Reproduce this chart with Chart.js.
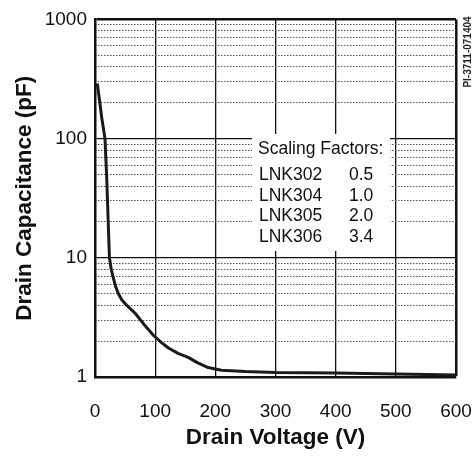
<!DOCTYPE html>
<html>
<head>
<meta charset="utf-8">
<script src="https://cdn.jsdelivr.net/npm/chart.js@4"></script>
<style>
  html, body { margin: 0; padding: 0; background: #fff; }
  #wrap { width: 474px; height: 456px; }
</style>
</head>
<body>
<div id="wrap"><canvas id="capChart" width="474" height="456"></canvas></div>
<script>
// ── DATA ──
const voltage = [3.8, 7.5, 11, 16.6, 19.4, 22, 24, 27, 30.4, 34, 38.8, 45, 52.6, 66.5, 83, 97, 110, 122, 138, 155, 170, 188, 210, 250, 300, 400, 500, 600];
const capacitance = [290, 210, 152, 100, 48, 19.6, 10, 8, 6.8, 5.8, 5.0, 4.4, 4.0, 3.44, 2.7, 2.24, 1.95, 1.75, 1.58, 1.46, 1.32, 1.2, 1.14, 1.11, 1.09, 1.08, 1.06, 1.04];

const yMajorTicks = [1, 10, 100, 1000];
const yMinorTicks = [2, 3, 4, 5, 6, 7, 8, 9, 20, 30, 40, 50, 60, 70, 80, 90, 200, 300, 400, 500, 600, 700, 800, 900];

const scalingParts = ['LNK302', 'LNK304', 'LNK305', 'LNK306'];
const scalingValues = ['0.5', '1.0', '2.0', '3.4'];

const FONT = "'Liberation Sans', Arial, Helvetica, sans-serif";

// ── SCALING FACTORS BOX + DOC ID ──
const annotations = {
    id: 'annotations',
    beforeDatasetsDraw(chart) {
        const ctx = chart.ctx;
        ctx.save();
        ctx.fillStyle = '#fff';
        ctx.fillRect(252, 134, 138, 117);
        ctx.fillStyle = '#111';
        ctx.font = '17.5px ' + FONT;
        ctx.textBaseline = 'middle';
        ctx.textAlign = 'left';
        ctx.fillText('Scaling Factors:', 258, 149);
        scalingParts.forEach((p, i) => {
            const y = 175 + i * 20.7;
            ctx.fillText(p, 259, y);
            ctx.fillText(scalingValues[i], 349, y);
        });
        ctx.restore();
    },
    afterDraw(chart) {
        const ctx = chart.ctx;
        ctx.save();
        ctx.translate(468, 52);
        ctx.rotate(-Math.PI / 2);
        ctx.font = 'bold 10px ' + FONT;
        ctx.fillStyle = '#222';
        ctx.textAlign = 'center';
        ctx.textBaseline = 'middle';
        ctx.fillText('PI-3711-071404', 0, 0);
        ctx.restore();
    }
};

new Chart(document.getElementById('capChart').getContext('2d'), {
    type: 'line',
    data: {
        datasets: [{
            data: voltage.map((v, i) => ({ x: v, y: capacitance[i] })),
            borderColor: '#1a1a1a',
            borderWidth: 3,
            borderJoinStyle: 'round',
            pointRadius: 0,
            tension: 0,
            fill: false
        }]
    },
    options: {
        responsive: false,
        animation: false,
        layout: { padding: { top: 13, right: 18, left: 0, bottom: 0 } },
        plugins: { legend: { display: false }, tooltip: { enabled: false } },
        scales: {
            x: {
                type: 'linear',
                min: 0,
                max: 600,
                ticks: { stepSize: 100, color: '#111', font: { family: FONT, size: 19 }, padding: 23, maxRotation: 0 },
                grid: {
                    color: '#111',
                    lineWidth: (c) => (c.tick && c.tick.value === 600 ? 2.5 : 1.3),
                    drawTicks: false
                },
                border: { color: '#111', width: 2.5 },
                title: { display: true, text: 'Drain Voltage (V)', color: '#111', font: { family: FONT, size: 22.5, weight: 'bold' }, padding: { top: 0, bottom: 5 } },
                afterFit: (s) => { s.height = 79; s.paddingLeft = 0; s.paddingRight = 0; }
            },
            y: {
                type: 'logarithmic',
                min: 1,
                max: 1000,
                afterBuildTicks: (s) => { s.ticks = yMajorTicks.map(v => ({ value: v })); },
                ticks: { color: '#111', font: { family: FONT, size: 19 }, padding: 8, autoSkip: false, callback: (v) => String(v) },
                grid: {
                    color: '#111',
                    lineWidth: (c) => (c.tick && c.tick.value === 1000 ? 2.5 : 1.3),
                    drawTicks: false
                },
                border: { color: '#111', width: 2.5 },
                title: { display: true, text: 'Drain Capacitance (pF)', color: '#111', font: { family: FONT, size: 22.5, weight: 'bold' }, padding: { top: 11, bottom: 0 } },
                afterFit: (s) => { s.width = 95; }
            },
            yMinor: {
                type: 'logarithmic',
                position: 'left',
                min: 1,
                max: 1000,
                afterBuildTicks: (s) => { s.ticks = yMinorTicks.map(v => ({ value: v })); },
                ticks: { display: false, autoSkip: false },
                grid: { color: '#555', lineWidth: 1, drawTicks: false },
                border: { display: false, dash: [1.5, 1.5] },
                afterFit: (s) => { s.width = 0; }
            }
        }
    },
    plugins: [annotations]
});
</script>
</body>
</html>
